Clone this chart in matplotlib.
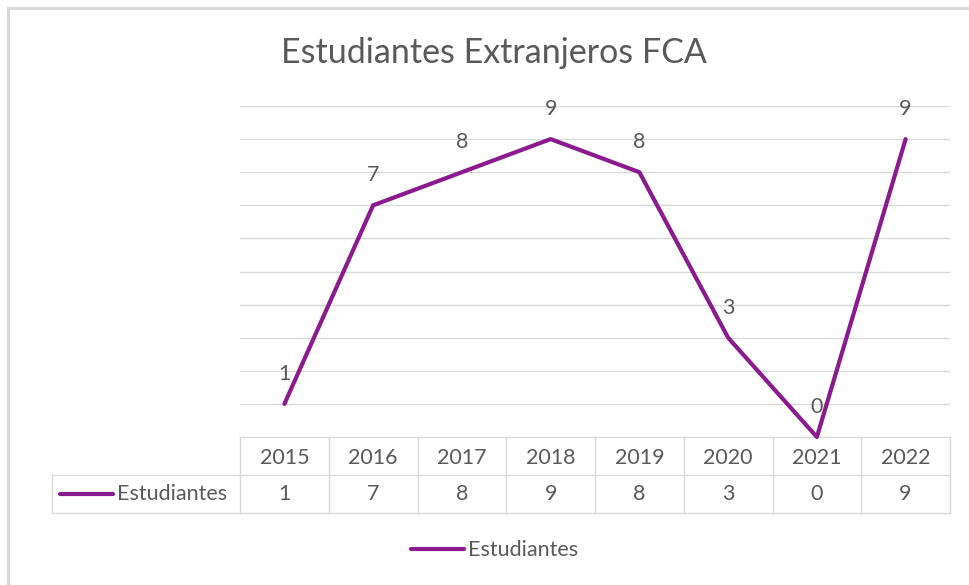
import matplotlib
matplotlib.use("Agg")
import matplotlib.pyplot as plt
from matplotlib.lines import Line2D
import matplotlib.transforms as mtrans

years = ["2015", "2016", "2017", "2018", "2019", "2020", "2021", "2022"]
estudiantes = [1, 7, 8, 9, 8, 3, 0, 9]
series_name = "Estudiantes"
title = "Estudiantes Extranjeros FCA"

W, H = 969, 585
FONT = ["Lato", "DejaVu Sans"]
TXT = "#595959"
LINE = "#8A1A8E"
GRID = "#D9D9D9"
FS = 15.5

plt.rcParams["font.family"] = FONT
fig = plt.figure(figsize=(W / 100, H / 100), dpi=100)

def px(x0, y0, x1, y1):
    return [x0 / W, 1 - y1 / H, (x1 - x0) / W, (y1 - y0) / H]

ax = fig.add_axes(px(240, 106, 950, 437))
n = len(years)
xs = list(range(n))
ax.set_xlim(-0.5, n - 0.5)
ax.set_ylim(0, 10)
for v in range(1, 11):
    ax.axhline(v, color=GRID, lw=1, zorder=0)
for s in ax.spines.values():
    s.set_visible(False)
ax.set_xticks([])
ax.set_yticks([])

ax.plot(xs, estudiantes, color=LINE, lw=3, solid_capstyle="round",
        solid_joinstyle="round", zorder=3, clip_on=False)
for x, v in zip(xs, estudiantes):
    ax.annotate(str(v), (x, v), xytext=(0, 21.5), textcoords="offset points",
                ha="center", va="center", fontsize=FS, color=TXT)

# data table
row_h = 38 / 331.0
bl = mtrans.blended_transform_factory(ax.transData, ax.transAxes)
left_ax = (52 - 240) / 710.0
tbl_kw = dict(color=GRID, lw=1, clip_on=False)
ax.add_line(Line2D([-0.5, n - 0.5], [0, 0], transform=bl, **tbl_kw))
for k in (1, 2):
    ax.add_line(Line2D([left_ax, 1], [-k * row_h, -k * row_h],
                       transform=ax.transAxes, **tbl_kw))
for i in range(n + 1):
    ax.add_line(Line2D([i - 0.5, i - 0.5], [0, -2 * row_h], transform=bl, **tbl_kw))
ax.add_line(Line2D([left_ax, left_ax], [-row_h, -2 * row_h],
                   transform=ax.transAxes, **tbl_kw))
for x, yr, v in zip(xs, years, estudiantes):
    ax.text(x, -0.55 * row_h, yr, transform=bl, ha="center", va="center",
            fontsize=FS, color=TXT)
    ax.text(x, -1.5 * row_h, str(v), transform=bl, ha="center", va="center",
            fontsize=FS, color=TXT)
# legend key in the table
fig.add_artist(Line2D([60 / W, 113 / W], [1 - 494 / H] * 2, color=LINE, lw=3,
                      solid_capstyle="round"))
fig.text(117 / W, 1 - 494 / H, series_name, ha="left", va="center",
         fontsize=FS, color=TXT)

# bottom legend
fig.add_artist(Line2D([411 / W, 464 / W], [1 - 549 / H] * 2, color=LINE, lw=3,
                      solid_capstyle="round"))
fig.text(468 / W, 1 - 550 / H, series_name, ha="left", va="center",
         fontsize=FS, color=TXT)

# title
fig.text(494 / W, 1 - 53 / H, title, ha="center", va="center",
         fontsize=24.5, color=TXT)

# outer frame (left and top)
fig.add_artist(Line2D([7.5 / W, 7.5 / W], [0, 1 - 7.5 / H], color="#D6D6D6", lw=2))
fig.add_artist(Line2D([7.5 / W, 1], [1 - 7.5 / H] * 2, color="#D6D6D6", lw=2))

fig.savefig("out.png", dpi=100)
